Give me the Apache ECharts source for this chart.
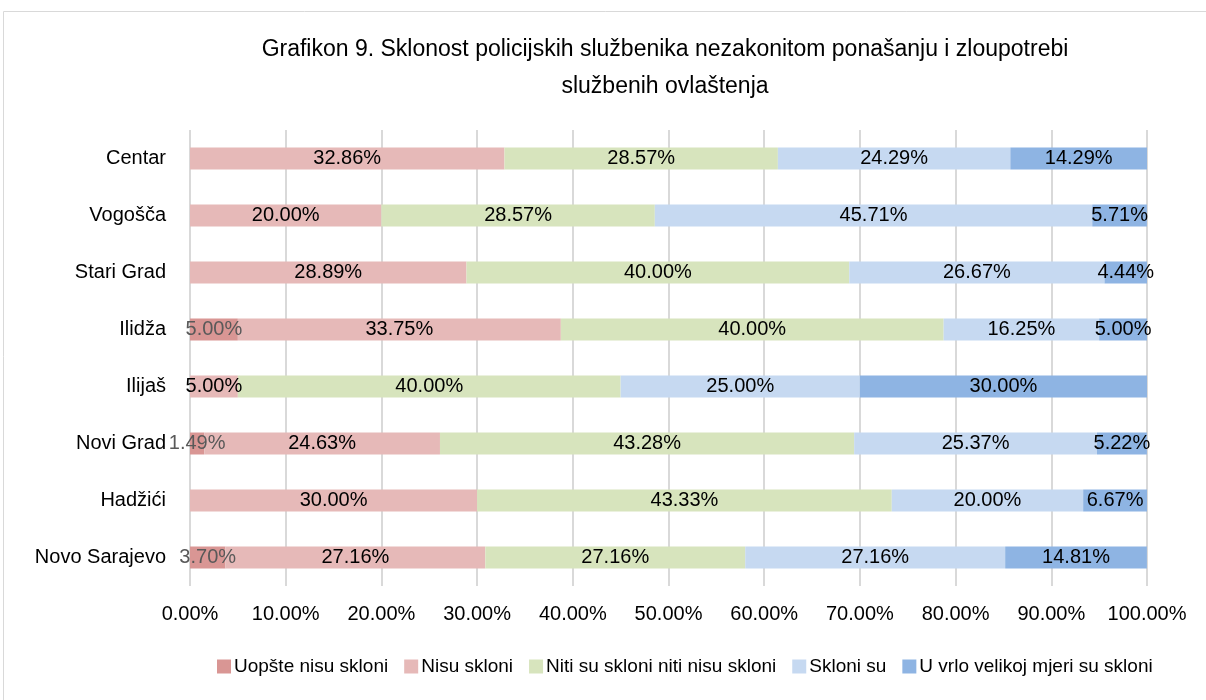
<!DOCTYPE html>
<html>
<head>
<meta charset="utf-8">
<script src="https://cdn.jsdelivr.net/npm/echarts@6/dist/echarts.min.js"></script>
<style>
  html, body { margin: 0; padding: 0; background: #fff; }
  #chart { width: 1206px; height: 700px; }
</style>
</head>
<body>
<div id="chart"></div>
<script>
// bottom to top, as the category axis draws them
const categories = ['Novo Sarajevo', 'Hadžići', 'Novi Grad', 'Ilijaš', 'Ilidža', 'Stari Grad', 'Vogošča', 'Centar']
const uopsteNisu = [3.70, 0, 1.49, 0, 5.00, 0, 0, 0]
const nisu = [27.16, 30.00, 24.63, 5.00, 33.75, 28.89, 20.00, 32.86]
const niti = [27.16, 43.33, 43.28, 40.00, 40.00, 40.00, 28.57, 28.57]
const skloni = [27.16, 20.00, 25.37, 25.00, 16.25, 26.67, 45.71, 24.29]
const uVrlo = [14.81, 6.67, 5.22, 30.00, 5.00, 4.44, 5.71, 14.29]
const xTicks = [0, 10, 20, 30, 40, 50, 60, 70, 80, 90, 100]

const font = 'Liberation Sans'

function makeSeries (name, data, color, labelColor) {
  return {
    name: name,
    type: 'bar',
    stack: 'total',
    barWidth: 22,
    data: data,
    itemStyle: { color: color },
    label: {
      show: true,
      position: 'inside',
      color: labelColor,
      fontFamily: font,
      fontSize: 20,
      formatter: p => p.value ? p.value.toFixed(2) + '%' : ''
    },
    emphasis: { disabled: true }
  }
}

const dom = echarts.init(document.getElementById('chart'))
const option = {
  animation: false,
  textStyle: { fontFamily: font },
  graphic: [{
    type: 'rect',
    shape: { x: 3.5, y: 11.5, width: 1220, height: 700 },
    style: { fill: 'none', stroke: '#d9d9d9', lineWidth: 1 },
    silent: true
  }],
  title: {
    text: 'Grafikon 9. Sklonost policijskih službenika nezakonitom ponašanju i zloupotrebi\nslužbenih ovlaštenja',
    left: 660,
    textAlign: 'center',
    top: 26,
    textStyle: {
      fontFamily: font,
      fontSize: 23,
      fontWeight: 'normal',
      color: '#000',
      lineHeight: 37
    }
  },
  legend: {
    top: 652,
    left: 212,
    itemWidth: 14,
    itemHeight: 14,
    itemGap: 16,
    icon: 'rect',
    selectedMode: false,
    textStyle: { fontFamily: font, fontSize: 19, color: '#000', padding: [0, 0, 0, -2] }
  },
  grid: {
    left: 190,
    right: 59,
    top: 130,
    bottom: 114
  },
  xAxis: {
    type: 'value',
    min: 0,
    max: 100,
    interval: 10,
    axisLine: { show: false },
    axisTick: { show: false },
    splitLine: { show: true, lineStyle: { color: '#d9d9d9', width: 2 } },
    axisLabel: {
      margin: 18,
      fontFamily: font,
      fontSize: 20,
      color: '#000',
      formatter: v => xTicks.includes(v) ? v.toFixed(2) + '%' : ''
    }
  },
  yAxis: {
    type: 'category',
    data: categories,
    axisLine: { show: false },
    axisTick: { show: false },
    axisLabel: { margin: 24, fontFamily: font, fontSize: 20, color: '#000' }
  },
  series: [
    makeSeries('Uopšte nisu skloni', uopsteNisu, '#d99694', '#595959'),
    makeSeries('Nisu skloni', nisu, '#e6b9b8', '#000'),
    makeSeries('Niti su skloni niti nisu skloni', niti, '#d7e4bd', '#000'),
    makeSeries('Skloni su', skloni, '#c6d9f1', '#000'),
    makeSeries('U vrlo velikoj mjeri su skloni', uVrlo, '#8eb4e3', '#000')
  ]
}
dom.setOption(option)
window.addEventListener('resize', () => dom.resize())
</script>
</body>
</html>
